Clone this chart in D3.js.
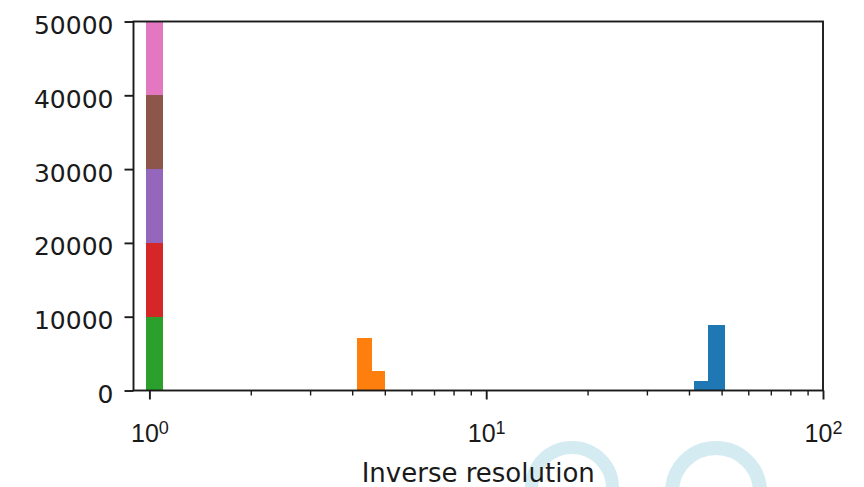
<!DOCTYPE html>
<html>
<head>
<meta charset="utf-8">
<script src="https://cdn.jsdelivr.net/npm/d3@7"></script>
<style>
  body { margin: 0; background: #fff; }
  svg { display: block; font-family: "DejaVu Sans", sans-serif; }
</style>
</head>
<body>
<div id="chart"></div>
<script>
// bins shared by all series (inverse resolution, log spaced)
var binLo = [0.977, 4.14, 4.57, 41.5, 45.65]
var binHi = [1.095, 4.57, 5.0, 45.65, 51.2]

// counts per bin, one array per stacked series (bottom to top)
var countsC0 = [0, 0, 0, 1220, 8900]
var countsC1 = [0, 7100, 2700, 0, 0]
var countsC2 = [10000, 0, 0, 0, 0]
var countsC3 = [10000, 0, 0, 0, 0]
var countsC4 = [10000, 0, 0, 0, 0]
var countsC5 = [10000, 0, 0, 0, 0]
var countsC6 = [10000, 0, 0, 0, 0]

var seriesKeys = ['C0', 'C1', 'C2', 'C3', 'C4', 'C5', 'C6']
var seriesCounts = [countsC0, countsC1, countsC2, countsC3, countsC4, countsC5, countsC6]
var colors = ['#1f77b4', '#ff7f0e', '#2ca02c', '#d62728', '#9467bd', '#8c564b', '#e377c2']

var xMajor = [1, 10, 100]
var xMinor = [2, 3, 4, 5, 6, 7, 8, 9, 20, 30, 40, 50, 60, 70, 80, 90]
var yTicks = [0, 10000, 20000, 30000, 40000, 50000]
var xLabel = 'Inverse resolution'

var width = 864, height = 487
// plot box (note: "top" is a reserved global in browsers)
var boxLeft = 133.5, boxRight = 823, boxTop = 21.5, boxBottom = 390.5

var svg = d3.select('#chart').append('svg').attr('width', width).attr('height', height)

// faint watermark rings behind everything
var wm = svg.append('g').attr('fill', 'none').attr('stroke', '#d3ebf1')
wm.append('circle').attr('cx', 572).attr('cy', 488).attr('r', 40.5).attr('stroke-width', 13)
wm.append('circle').attr('cx', 716).attr('cy', 492).attr('r', 44).attr('stroke-width', 14)

var x = d3.scaleLog().domain([0.897, 100]).range([boxLeft, boxRight])
var y = d3.scaleLinear().domain([0, 50000]).range([boxBottom, boxTop])

// build table for d3.stack
var table = binLo.map(function(lo, i) {
  var row = {lo: lo, hi: binHi[i]}
  seriesKeys.forEach(function(k, j) { row[k] = seriesCounts[j][i] })
  return row
})
var stacked = d3.stack().keys(seriesKeys)(table)

svg.append('g').attr('shape-rendering', 'crispEdges')
  .selectAll('g').data(stacked).enter()
  .append('g')
  .attr('fill', function(d, i) { return colors[i] })
  .selectAll('rect').data(function(d) { return d.filter(function(p) { return p[1] > p[0] }) })
  .enter().append('rect')
  .attr('x', function(p) { return x(p.data.lo) })
  .attr('width', function(p) { return x(p.data.hi) - x(p.data.lo) })
  .attr('y', function(p) { return y(p[1]) })
  .attr('height', function(p) { return y(p[0]) - y(p[1]) })

var tickColor = '#1a1a1a'

// x axis: major ticks with 10^n labels
var xAxis = svg.append('g').attr('transform', 'translate(0,' + boxBottom + ')')
  .call(d3.axisBottom(x).tickValues(xMajor).tickSize(9).tickSizeOuter(0).tickFormat(''))
xAxis.select('.domain').remove()
xAxis.selectAll('line').attr('stroke', tickColor).attr('stroke-width', 1.9)
xAxis.selectAll('.tick text').each(function(d) {
  var t = d3.select(this).text(null).attr('y', 51).attr('dy', null)
    .attr('font-size', 25).attr('fill', tickColor).attr('text-anchor', 'middle')
  t.append('tspan').text('10')
  t.append('tspan').attr('font-size', 18).attr('dy', -8).text(String(Math.round(Math.log10(d))))
})

// minor ticks
var xMinorAxis = svg.append('g').attr('transform', 'translate(0,' + boxBottom + ')')
  .call(d3.axisBottom(x).tickValues(xMinor).tickSize(5).tickFormat(''))
xMinorAxis.select('.domain').remove()
xMinorAxis.selectAll('line').attr('stroke', tickColor).attr('stroke-width', 1.4)

// y axis
var yAxis = svg.append('g').attr('transform', 'translate(' + boxLeft + ',0)')
  .call(d3.axisLeft(y).tickValues(yTicks).tickSize(9).tickPadding(11).tickFormat(d3.format('d')))
yAxis.select('.domain').remove()
yAxis.selectAll('line').attr('stroke', tickColor).attr('stroke-width', 1.9)
yAxis.selectAll('text').attr('font-size', 25).attr('fill', tickColor).attr('dy', '0.48em')
  .attr('font-family', '"DejaVu Sans", sans-serif')

// frame
svg.append('rect')
  .attr('x', boxLeft).attr('y', boxTop)
  .attr('width', boxRight - boxLeft).attr('height', boxBottom - boxTop)
  .attr('fill', 'none').attr('stroke', tickColor).attr('stroke-width', 1.9)

svg.append('text')
  .attr('x', (boxLeft + boxRight) / 2).attr('y', 482)
  .attr('text-anchor', 'middle').attr('font-size', 26).attr('fill', tickColor)
  .text(xLabel)
</script>
</body>
</html>
